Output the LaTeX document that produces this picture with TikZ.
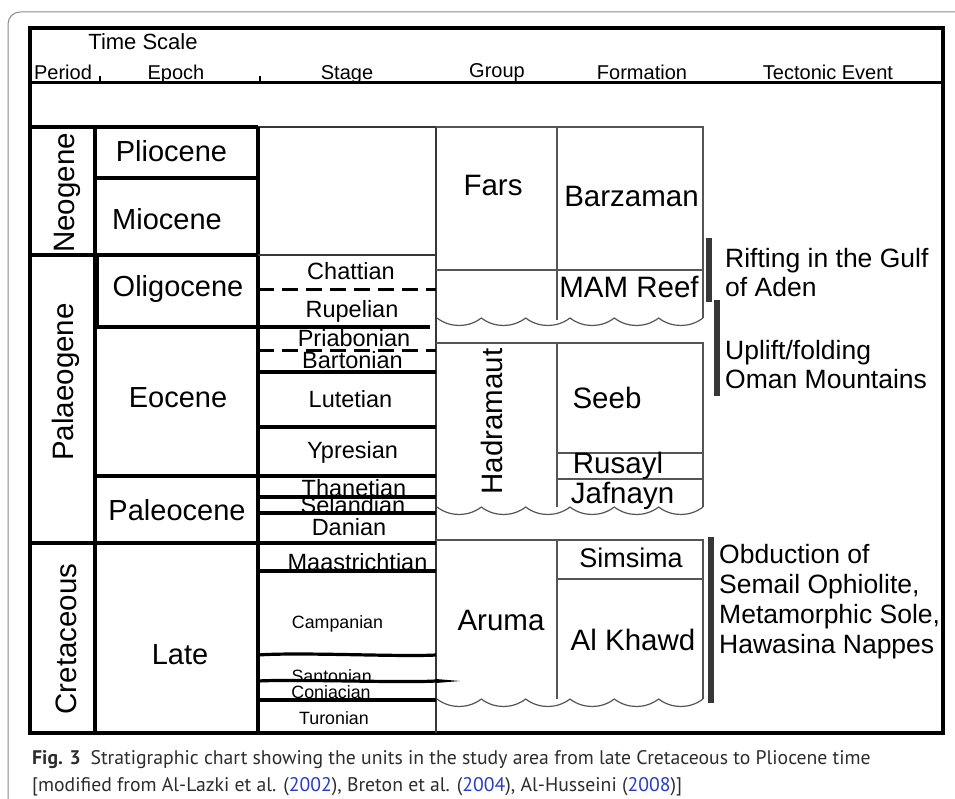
\documentclass[tikz,border=0pt]{standalone}
\usepackage{fontspec}
\setmainfont{Liberation Sans}
\newfontfamily\capfont{PT Sans}
\definecolor{framec}{RGB}{140,140,140}
\definecolor{dg}{RGB}{55,55,55}
\definecolor{thinc}{RGB}{85,85,85}
\definecolor{barc}{RGB}{55,55,55}
\definecolor{capgray}{RGB}{45,45,45}
\definecolor{capblue}{RGB}{40,60,200}
\begin{document}
\begin{tikzpicture}[x=1pt,y=-1pt,
  hdr/.style={anchor=base,inner sep=0,font=\fontsize{20}{22}\selectfont},
  per/.style={anchor=base,inner sep=0,rotate=90,font=\fontsize{29.5}{32}\selectfont},
  epo/.style={anchor=base,inner sep=0,font=\fontsize{29}{32}\selectfont},
  stg/.style={anchor=base,inner sep=0,font=\fontsize{23.5}{26}\selectfont},
  stgs/.style={anchor=base,inner sep=0,font=\fontsize{17.8}{20}\selectfont},
  fm/.style={anchor=base,inner sep=0,font=\fontsize{29.5}{32}\selectfont},
  tec/.style={anchor=base west,inner sep=0,font=\fontsize{26.5}{30}\selectfont},
  thk/.style={line width=3.4pt,black},
  stl/.style={line width=3.2pt,black},
  dsh/.style={line width=3pt,black,dash pattern=on 16pt off 8pt},
  thn/.style={line width=1.2pt,thinc},
  bar/.style={line width=6pt,barc},
  wave/.style={line width=1.2pt,thinc}]
\clip (0,0) rectangle (955,799);
\fill[white] (0,0) rectangle (955,799);
% outer rounded frame
\draw[framec,line width=1pt,rounded corners=12pt] (8,12) rectangle (990,830);
% table border and header
\draw[line width=4pt] (30,28) rectangle (943,733);
\draw[line width=3pt] (30,83) -- (943,83);
\draw[line width=2pt] (100,76) -- (100,84);
\draw[line width=2pt] (260,76) -- (260,84);
\node[anchor=base,inner sep=0,font=\fontsize{22}{24}\selectfont] (ts) at (143,50) {Time Scale};
\node[hdr] (hper) at (63,80) {Period};
\node[hdr] (hepo) at (176,80) {Epoch};
\node[hdr] (hstg) at (347,80) {Stage};
\node[hdr] (hgrp) at (497,78) {Group};
\node[hdr] (hfm) at (642,80) {Formation};
\node[hdr] (htec) at (828,80) {Tectonic Event};
% period / epoch / stage grid
\draw[thk] (30,127) -- (258,127);
\draw[line width=2.8pt,dg] (258,127) -- (436,127);
\draw[thk] (95,127) -- (95,733);
\draw[thk] (258,127) -- (258,733);
\draw[line width=2.8pt,dg] (436,127) -- (436,733);
\draw[thk] (30,255) -- (95,255);
\draw[thk] (30,543) -- (95,543);
\draw[thk] (95,178) -- (258,178);
\draw[thk] (95,255) -- (258,255);
\draw[thk] (95,327) -- (258,327);
\draw[line width=1.5pt] (98,255) -- (98,327);
\draw[thk] (95,476) -- (258,476);
\draw[thk] (95,543) -- (258,543);
\draw[line width=2.8pt,dg] (258,255) -- (436,255);
\draw[dsh] (258,290) -- (436,290);
\draw[stl] (250,327) -- (430,327);
\draw[dsh] (258,350) -- (436,350);
\draw[stl] (258,372) -- (436,372);
\draw[stl] (258,427) -- (436,427);
\draw[stl] (258,476) -- (436,476);
\draw[stl] (258,497) -- (436,497);
\draw[stl] (258,513) -- (436,513);
\draw[stl] (258,543) -- (436,543);
\draw[stl] (258,571) -- (436,571);
\draw[stl] (258,655) .. controls (300,652) and (400,657) .. (436,655);
\draw[stl] (258,681) .. controls (300,679) and (400,683) .. (436,681);
\draw[stl] (258,700) -- (436,700);
\fill[black] (436,679) -- (460,681) -- (436,683) -- cycle;
% period labels
\node[per] (neo) at (74,193) {Neogene};
\node[per] (pal) at (73,382) {Palaeogene};
\node[per] (cre) at (76,639) {Cretaceous};
% epoch labels
\node[epo] (pli) at (171.5,162) {Pliocene};
\node[epo] (mio) at (167,230) {Miocene};
\node[epo] (oli) at (178,297) {Oligocene};
\node[epo] (eoc) at (178,407) {Eocene};
\node[epo] (pal2) at (177,520) {Paleocene};
\node[epo] (late) at (180,664) {Late};
% stage labels
\node[stg] (cha) at (351,280) {Chattian};
\node[stg] (rup) at (352,317) {Rupelian};
\node[stg] (pri) at (354,346) {Priabonian};
\node[stg] (bar) at (352.5,368) {Bartonian};
\node[stg] (lut) at (350.5,407) {Lutetian};
\node[stg] (ypr) at (352.5,458) {Ypresian};
\node[stg] (tha) at (354,496) {Thanetian};
\node[stg] (sel) at (353,513) {Selandian};
\node[stg] (dan) at (349,535) {Danian};
\node[stg] (maa) at (357.5,570) {Maastrichtian};
\node[stgs] (cam) at (337.5,628) {Campanian};
\node[stgs] (san) at (331.7,682) {Santonian};
\node[stgs] (con) at (331,698) {Coniacian};
\node[stgs] (tur) at (334,724) {Turonian};
% group / formation blocks
\draw[thn] (436,127) -- (703,127) -- (703,318);
\draw[thn] (436,270) -- (703,270);
\draw[thn] (557,127) -- (557,320);
\draw[wave] (437,318) foreach \i in {1,...,6} { .. controls +(13,10) and +(-13,10) .. ++(44.33,0)};
\draw[thn] (436,343) -- (703,343) -- (703,507);
\draw[thn] (557,343) -- (557,507);
\draw[thn] (557,453) -- (703,453);
\draw[thn] (557,479) -- (703,479);
\draw[wave] (437,507) foreach \i in {1,...,6} { .. controls +(13,10) and +(-13,10) .. ++(44.33,0)};
\draw[thn] (436,540) -- (703,540) -- (703,699);
\draw[thn] (557,540) -- (557,699);
\draw[thn] (557,579) -- (703,579);
\draw[wave] (437,699) foreach \i in {1,...,6} { .. controls +(13,10) and +(-13,10) .. ++(44.33,0)};
\node[fm] (fars) at (493,196) {Fars};
\node[fm] (barz) at (631.5,207) {Barzaman};
\node[fm] (mam) at (629,298) {MAM Reef};
\node[fm,rotate=90] (had) at (502,421.5) {Hadramaut};
\node[fm] (seeb) at (607,408) {Seeb};
\node[fm] (rus) at (618,473) {Rusayl};
\node[fm] (jaf) at (622.5,503) {Jafnayn};
\node[fm] (aru) at (501,630) {Aruma};
\node[fm,font=\fontsize{27}{30}\selectfont] (sim) at (631,567) {Simsima};
\node[fm] (alk) at (633,650) {Al Khawd};
% tectonic events
\draw[bar] (709,238) -- (709,302);
\draw[bar] (717,300) -- (717,396);
\draw[bar] (711,537) -- (711,703);
\node[tec] (t1a) at (725,268) {Rifting in the Gulf};
\node[tec] (t1b) at (725,297) {of Aden};
\node[tec] (t2a) at (725,359) {Uplift/folding};
\node[tec] (t2b) at (725,388) {Oman Mountains};
\node[tec] (t3a) at (719,563) {Obduction of};
\node[tec] (t3b) at (719,593) {Semail Ophiolite,};
\node[tec] (t3c) at (719,623) {Metamorphic Sole,};
\node[tec] (t3d) at (719,653) {Hawasina Nappes};
% caption
\node[anchor=base west,inner sep=0,text=capgray,font=\capfont\fontsize{19.7}{22}\selectfont] (cap1) at (32,764)
  {\textbf{Fig. 3}\enspace Stratigraphic chart showing the units in the study area from late Cretaceous to Pliocene time};
\node[anchor=base west,inner sep=0,text=capgray,font=\capfont\fontsize{19.7}{22}\selectfont] (cap2) at (32,791)
  {[modified from Al-Lazki et al. (\textcolor{capblue}{2002}), Breton et al. (\textcolor{capblue}{2004}), Al-Husseini (\textcolor{capblue}{2008})]};
\end{tikzpicture}
\end{document}
